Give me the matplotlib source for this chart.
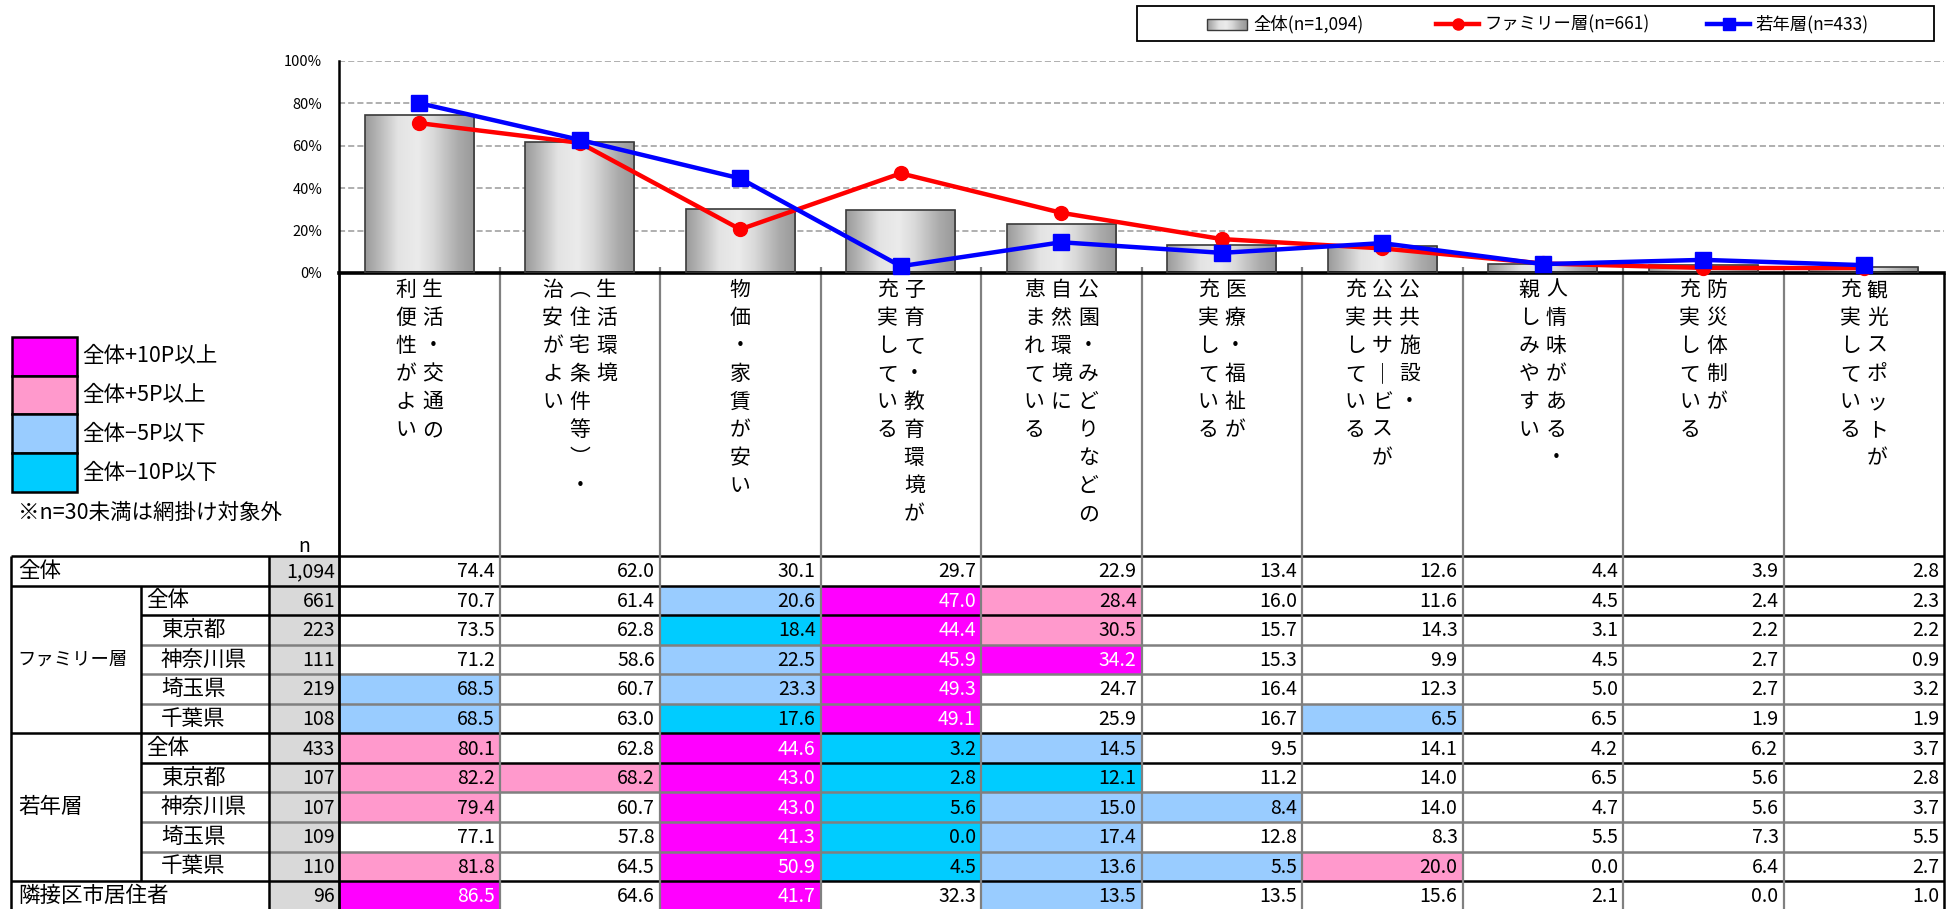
import numpy as np
import matplotlib
matplotlib.use("Agg")
import matplotlib.pyplot as plt
from matplotlib.patches import Rectangle
from matplotlib.colors import LinearSegmentedColormap

plt.rcParams['font.family'] = ['Noto Sans CJK JP', 'DejaVu Sans']

# ---------------- data ----------------
CAT_LINES = [
    ["生活・交通の", "利便性がよい"],
    ["生活環境", "（住宅条件等）・", "治安がよい"],
    ["物価・家賃が安い"],
    ["子育て・教育環境が", "充実している"],
    ["公園・みどりなどの", "自然環境に", "恵まれている"],
    ["医療・福祉が", "充実している"],
    ["公共施設・", "公共サービスが", "充実している"],
    ["人情味がある・", "親しみやすい"],
    ["防災体制が", "充実している"],
    ["観光スポットが", "充実している"],
]

ROW_LABELS = ["全体", "全体", "東京都", "神奈川県", "埼玉県", "千葉県",
              "全体", "東京都", "神奈川県", "埼玉県", "千葉県", "隣接区市居住者"]
GROUP_LABELS = ["ファミリー層", "若年層"]
ROW_N = [1094, 661, 223, 111, 219, 108, 433, 107, 107, 109, 110, 96]

TOTAL      = [74.4, 62.0, 30.1, 29.7, 22.9, 13.4, 12.6, 4.4, 3.9, 2.8]
FAM_ALL    = [70.7, 61.4, 20.6, 47.0, 28.4, 16.0, 11.6, 4.5, 2.4, 2.3]
FAM_TOKYO  = [73.5, 62.8, 18.4, 44.4, 30.5, 15.7, 14.3, 3.1, 2.2, 2.2]
FAM_KANAG  = [71.2, 58.6, 22.5, 45.9, 34.2, 15.3, 9.9, 4.5, 2.7, 0.9]
FAM_SAIT   = [68.5, 60.7, 23.3, 49.3, 24.7, 16.4, 12.3, 5.0, 2.7, 3.2]
FAM_CHIBA  = [68.5, 63.0, 17.6, 49.1, 25.9, 16.7, 6.5, 6.5, 1.9, 1.9]
YNG_ALL    = [80.1, 62.8, 44.6, 3.2, 14.5, 9.5, 14.1, 4.2, 6.2, 3.7]
YNG_TOKYO  = [82.2, 68.2, 43.0, 2.8, 12.1, 11.2, 14.0, 6.5, 5.6, 2.8]
YNG_KANAG  = [79.4, 60.7, 43.0, 5.6, 15.0, 8.4, 14.0, 4.7, 5.6, 3.7]
YNG_SAIT   = [77.1, 57.8, 41.3, 0.0, 17.4, 12.8, 8.3, 5.5, 7.3, 5.5]
YNG_CHIBA  = [81.8, 64.5, 50.9, 4.5, 13.6, 5.5, 20.0, 0.0, 6.4, 2.7]
NEIGHBOR   = [86.5, 64.6, 41.7, 32.3, 13.5, 13.5, 15.6, 2.1, 0.0, 1.0]

LEGEND_LABELS = ["全体(n=1,094)", "ファミリー層(n=661)", "若年層(n=433)"]
KEY_LABELS = ["全体+10P以上", "全体+5P以上", "全体−5P以下", "全体−10P以下"]
NOTE = "※n=30未満は網掛け対象外"

TABLE_ROWS = [TOTAL, FAM_ALL, FAM_TOKYO, FAM_KANAG, FAM_SAIT, FAM_CHIBA,
              YNG_ALL, YNG_TOKYO, YNG_KANAG, YNG_SAIT, YNG_CHIBA, NEIGHBOR]

# ---------------- layout / style ----------------
W, H = 1959, 909
X_LEFT, X_SUB, X_N, X_DATA = 11, 141, 269, 339
CW = 160.5
X_RIGHT = X_DATA + 10 * CW
Y_TOP, Y_AXIS, Y_HEAD = 61, 273, 556
RH = 29.55

C_MAG, C_PINK, C_LBLUE, C_CYAN = "#FF00FF", "#FF99CC", "#99CCFF", "#00CCFF"
KEY_COLORS = [C_MAG, C_PINK, C_LBLUE, C_CYAN]
GRAYLINE = "#808080"

cyl = LinearSegmentedColormap.from_list("cyl", [
    (0.0, "#9a9a9a"), (0.12, "#b6b6b6"), (0.3, "#e3e3e3"), (0.48, "#ebebeb"),
    (0.62, "#dadada"), (0.85, "#ababab"), (1.0, "#989898")])
grad = np.linspace(0, 1, 256).reshape(1, -1)

fig = plt.figure(figsize=(W / 100, H / 100), dpi=100)
fig.patch.set_facecolor("white")

# overlay axes in pixel coordinates
tab = fig.add_axes([0, 0, 1, 1])
tab.axis("off")


def hline(y, x0, x1, color="black", lw=1.6):
    tab.plot([x0, x1], [y, y], color=color, lw=lw, solid_capstyle="butt", zorder=3)


def vline(x, y0, y1, color="black", lw=1.6):
    tab.plot([x, x], [y0, y1], color=color, lw=lw, solid_capstyle="butt", zorder=3)


# ---------------- chart ----------------
ax = fig.add_axes([X_DATA / W, 1 - Y_AXIS / H, (X_RIGHT - X_DATA) / W, (Y_AXIS - Y_TOP) / H])
ax.set_facecolor("none")
x = np.arange(len(TOTAL))
bars = ax.bar(x, TOTAL, width=0.68, facecolor="none", edgecolor="#3a3a3a", lw=1.2, zorder=3)
for p in bars:
    x0, w, h = p.get_x(), p.get_width(), p.get_height()
    im = ax.imshow(grad, extent=[x0, x0 + w, 0, h], aspect="auto", cmap=cyl,
                   interpolation="bilinear", zorder=2)
    im.set_clip_path(p)
ax.plot(x, FAM_ALL, color="#FF0000", lw=3.2, marker="o", ms=10, zorder=4, clip_on=False)
ax.plot(x, YNG_ALL, color="#0000FF", lw=3.2, marker="s", ms=11, zorder=5, clip_on=False)
ax.set_xlim(-0.5, 9.5)
ax.set_ylim(0, 100)
ax.set_yticks(range(0, 101, 20))
ax.set_yticklabels([f"{v}%" for v in range(0, 101, 20)], fontsize=10.5)
ax.tick_params(axis="y", length=0, pad=12)
ax.set_xticks([])
for v in range(20, 101, 20):
    ax.axhline(v, color="#9a9a9a", lw=1.1, ls=(0, (4, 2)), zorder=1)
for s in ["top", "right"]:
    ax.spines[s].set_visible(False)
ax.spines["left"].set_linewidth(1.8)
ax.spines["bottom"].set_linewidth(2.6)

# ---------------- top legend ----------------
tab.add_patch(Rectangle((1137, 6), 797, 35, facecolor="white", edgecolor="black", lw=1.3, zorder=2))
ly = 24
tab.imshow(grad, extent=[1207, 1247, 30, 19], aspect="auto", cmap=cyl, zorder=3)
tab.add_patch(Rectangle((1207, 19), 40, 11, facecolor="none", edgecolor="#3a3a3a", lw=1, zorder=4))
tab.text(1253, ly, LEGEND_LABELS[0], fontsize=12.5, ha="left", va="center", zorder=4)
tab.plot([1436, 1479], [ly, ly], color="#FF0000", lw=3.2, marker=None, zorder=4)
tab.plot([1457.5], [ly], color="#FF0000", marker="o", ms=8, zorder=4)
tab.text(1484, ly, LEGEND_LABELS[1], fontsize=12.5, ha="left", va="center", zorder=4)
tab.plot([1707, 1750], [ly, ly], color="#0000FF", lw=3.2, zorder=4)
tab.plot([1728.5], [ly], color="#0000FF", marker="s", ms=9, zorder=4)
tab.text(1755, ly, LEGEND_LABELS[2], fontsize=12.5, ha="left", va="center", zorder=4)

# ---------------- category labels (vertical text) ----------------
VERT = {"（": "︵", "）": "︶", "ー": "｜"}
SP_X, SP_Y, Y_CHAR0 = 27, 28, 290
for i, lines in enumerate(CAT_LINES):
    cx = X_DATA + (i + 0.5) * CW
    k = len(lines)
    for j, line in enumerate(lines):
        lx = cx + (k - 1) / 2 * SP_X - j * SP_X
        for m, ch in enumerate(line):
            tab.text(lx, Y_CHAR0 + m * SP_Y, VERT.get(ch, ch), fontsize=15,
                     ha="center", va="center", zorder=4)

# ---------------- colour key ----------------
for k, (c, lab) in enumerate(zip(KEY_COLORS, KEY_LABELS)):
    y0 = 337 + k * 38.7
    tab.add_patch(Rectangle((12, y0), 65, 38.7, facecolor=c, edgecolor="black", lw=1.8, zorder=3))
    tab.text(82, y0 + 19.5, lab, fontsize=15.5, ha="left", va="center", zorder=4)
tab.text(18, 513, NOTE, fontsize=15.5, ha="left", va="center", zorder=4)
tab.text((X_N + X_DATA) / 2, 546, "n", fontsize=14, ha="center", va="center", zorder=4)

# ---------------- table ----------------
n_rows = len(TABLE_ROWS)
tab.add_patch(Rectangle((X_N, Y_HEAD), X_DATA - X_N, n_rows * RH + 10, facecolor="#D9D9D9",
                        edgecolor="none", zorder=1))
for r, (vals, n) in enumerate(zip(TABLE_ROWS, ROW_N)):
    yc = Y_HEAD + (r + 0.5) * RH
    for c, v in enumerate(vals):
        col = None
        if r > 0 and n >= 30:
            d = round(v - TOTAL[c], 1)
            if d >= 10:
                col = C_MAG
            elif d >= 5:
                col = C_PINK
            elif d <= -10:
                col = C_CYAN
            elif d <= -5:
                col = C_LBLUE
        if col:
            tab.add_patch(Rectangle((X_DATA + c * CW, Y_HEAD + r * RH), CW, RH,
                                    facecolor=col, edgecolor="none", zorder=1))
        tab.text(X_DATA + (c + 1) * CW - 5, yc + 1, f"{v:.1f}", fontsize=14,
                 color="white" if col == C_MAG else "black", ha="right", va="center", zorder=4)
    tab.text(X_DATA - 4, yc + 1, f"{n:,}", fontsize=14, ha="right", va="center", zorder=4)

# row labels
tab.text(18, Y_HEAD + 0.5 * RH, ROW_LABELS[0], fontsize=15.5, ha="left", va="center", zorder=4)
tab.text(18, Y_HEAD + 11.5 * RH, ROW_LABELS[11], fontsize=15.5, ha="left", va="center", zorder=4)
tab.text(17, Y_HEAD + 3.5 * RH, GROUP_LABELS[0], fontsize=13.2, ha="left", va="center", zorder=4)
tab.text(18, Y_HEAD + 8.5 * RH, GROUP_LABELS[1], fontsize=15.5, ha="left", va="center", zorder=4)
for r in range(1, 11):
    xs = 146 if ROW_LABELS[r] == "全体" else 161
    tab.text(xs, Y_HEAD + (r + 0.5) * RH, ROW_LABELS[r], fontsize=15.5, ha="left",
             va="center", zorder=4)

# grid lines
Y_BOT = H + 5
for r in range(n_rows):
    y = Y_HEAD + r * RH
    if r in (0, 1, 6, 11):
        hline(y, X_LEFT, X_RIGHT, "black", 1.8)
    elif r in (2, 7):
        hline(y, X_SUB, X_RIGHT, "black", 1.8)
    else:
        hline(y, X_SUB, X_RIGHT, GRAYLINE, 1.8)
for c in range(1, 10):
    vline(X_DATA + c * CW, Y_AXIS - 6, Y_BOT, GRAYLINE, 1.6)
vline(X_LEFT, Y_HEAD, Y_BOT, "black", 1.8)
vline(X_SUB, Y_HEAD + RH, Y_HEAD + 11 * RH, "black", 1.8)
vline(X_N, Y_HEAD, Y_BOT, "black", 1.8)
vline(X_DATA, Y_AXIS, Y_BOT, "black", 2.0)
vline(X_RIGHT, Y_AXIS, Y_BOT, "black", 1.8)

tab.set_xlim(0, W)
tab.set_ylim(H, 0)

fig.savefig("out.png", dpi=100, facecolor="white")
